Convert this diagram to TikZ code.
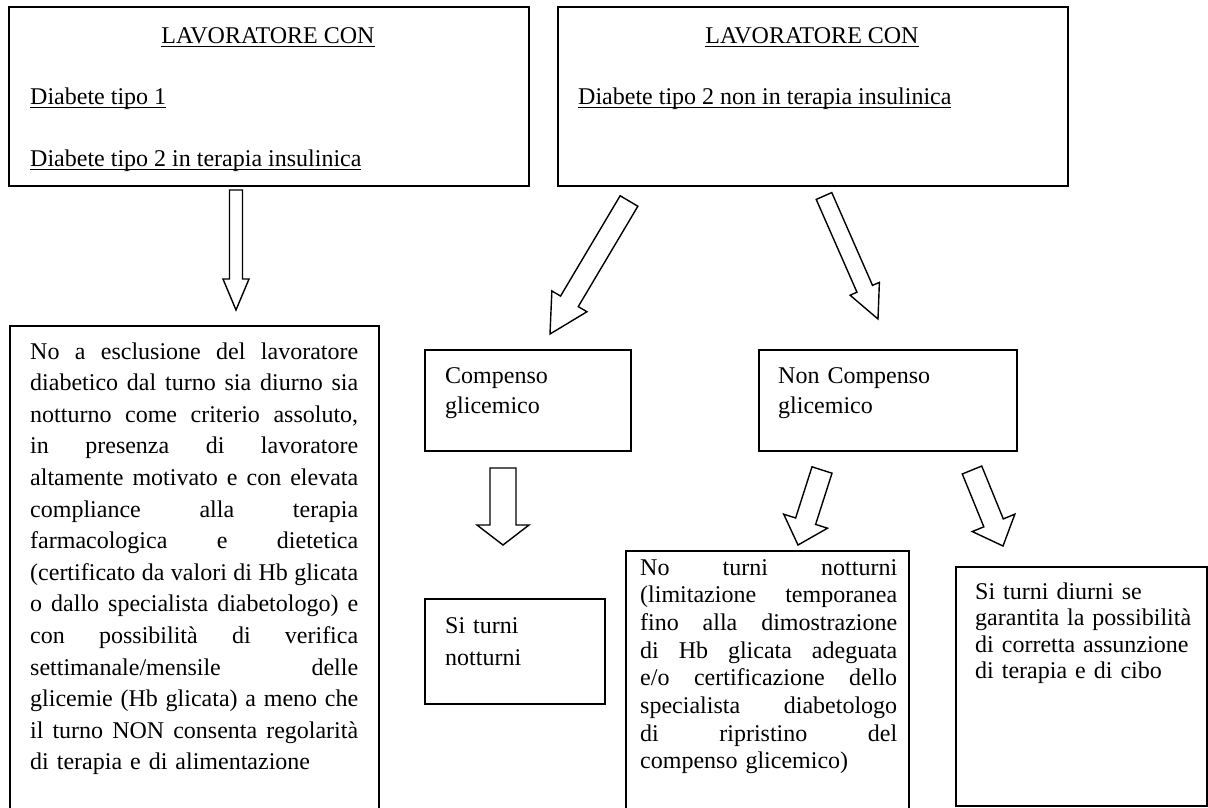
\documentclass[tikz,border=0pt]{standalone}
\usepackage{fontspec}
\setmainfont{Liberation Serif}
\usetikzlibrary{calc}
\newcommand\myul[1]{\setbox0=\hbox{#1}\rlap{\rule[-4pt]{\wd0}{1.3pt}}\box0}
\newcommand\jl[1]{\hbox to\hsize{\frenchspacing\spaceskip=.25em plus 1fil\relax #1}}
\newcommand\lastln[1]{\hbox{#1}}
\newcommand\barrow[5]{%
  \coordinate (hb) at ($(#2)!#5!(#1)$);
  \draw[arrowshape] ($(#1)!#3!90:(#2)$) -- ($(hb)!#3!90:(#2)$) -- ($(hb)!#4!90:(#2)$) -- (#2)
     -- ($(hb)!#4!-90:(#2)$) -- ($(hb)!#3!-90:(#2)$) -- ($(#1)!#3!-90:(#2)$) -- cycle;}
\begin{document}
\begin{tikzpicture}[x=1pt,y=-1pt,
  boxshape/.style={draw, line width=1.6pt, inner sep=0pt, anchor=north west},
  arrowshape/.style={draw, line width=1.4pt, line join=miter, fill=white},
  txt/.style={inner sep=0pt, anchor=base west, font=\fontsize{24}{28}\selectfont},
  para/.style={inner sep=0pt, anchor=base west, align=left}]
\useasboundingbox (0,0) rectangle (1208,807);
\fill[white] (0,0) rectangle (1208,807);
\clip (0,0) rectangle (1208,807);

% boxes
\node[boxshape, minimum width=520pt, minimum height=179pt] (b1) at (8,6) {};
\node[boxshape, minimum width=510pt, minimum height=179pt] (b2) at (557,6) {};
\node[boxshape, minimum width=369pt, minimum height=500pt] (b3) at (9,325) {};
\node[boxshape, minimum width=206pt, minimum height=101pt] (b4) at (424,349) {};
\node[boxshape, minimum width=258pt, minimum height=101pt] (b5) at (758,349) {};
\node[boxshape, minimum width=180pt, minimum height=105pt] (b6) at (424,598) {};
\node[boxshape, minimum width=283pt, minimum height=270pt] (b7) at (625,550) {};
\node[boxshape, minimum width=251pt, minimum height=239pt] (b8) at (955,566) {};

% texts
\node[txt, anchor=base] (t1a) at (268,43) {\myul{LAVORATORE CON}};
\node[txt] (t1b) at (30,104) {\myul{Diabete tipo 1}};
\node[txt] (t1c) at (30,166) {\myul{Diabete tipo 2 in terapia insulinica}};
\node[txt, anchor=base] (t2a) at (812,43) {\myul{LAVORATORE CON}};
\node[txt] (t2b) at (578,104) {\myul{Diabete tipo 2 non in terapia insulinica}};

\node[para, font=\fontsize{24}{31.6}\selectfont, text width=328pt] (t3) at (30,359)
 {\jl{No a esclusione del lavoratore}
  \jl{diabetico dal turno sia diurno sia}
  \jl{notturno come criterio assoluto,}
  \jl{in presenza di lavoratore}
  \jl{altamente motivato e con elevata}
  \jl{compliance alla terapia}
  \jl{farmacologica e dietetica}
  \jl{(certificato da valori di Hb glicata}
  \jl{o dallo specialista diabetologo) e}
  \jl{con possibilità di verifica}
  \jl{settimanale/mensile delle}
  \jl{glicemie (Hb glicata) a meno che}
  \jl{il turno NON consenta regolarità}
  \lastln{di terapia e di alimentazione}};

\node[para, font=\fontsize{24}{30}\selectfont, text width=180pt] (t4) at (445,383) {Compenso\\glicemico};
\node[para, font=\fontsize{24}{30}\selectfont, text width=220pt] (t5) at (778,383) {Non Compenso\\glicemico};
\node[para, font=\fontsize{24}{32}\selectfont, text width=150pt] (t6) at (445,633) {Si turni\\notturni};

\node[para, font=\fontsize{24}{27.7}\selectfont, text width=257pt] (t7) at (640,575)
 {\jl{No turni notturni}
  \jl{(limitazione temporanea}
  \jl{fino alla dimostrazione}
  \jl{di Hb glicata adeguata}
  \jl{e/o certificazione dello}
  \jl{specialista diabetologo}
  \jl{di ripristino del}
  \lastln{compenso glicemico)}};

\node[para, font=\fontsize{24}{26.5}\selectfont, text width=225pt] (t8) at (975,599)
 {Si turni diurni se\\garantita la possibilità\\di corretta assunzione\\di terapia e di cibo};

% block arrows
\coordinate (a1s) at (236,190); \coordinate (a1e) at (236,310);
\barrow{a1s}{a1e}{6.5pt}{13pt}{31pt}
\coordinate (a2s) at (629,201); \coordinate (a2e) at (550,334);
\barrow{a2s}{a2e}{10.3pt}{20.4pt}{38pt}
\coordinate (a3s) at (824,196); \coordinate (a3e) at (878,319);
\barrow{a3s}{a3e}{8.5pt}{16pt}{33pt}
\coordinate (a4s) at (503,468); \coordinate (a4e) at (503,545);
\barrow{a4s}{a4e}{13pt}{26pt}{20pt}
\coordinate (a5s) at (822,470); \coordinate (a5e) at (798,545);
\barrow{a5s}{a5e}{10.5pt}{23pt}{25pt}
\coordinate (a6s) at (972,470); \coordinate (a6e) at (1003,546);
\barrow{a6s}{a6e}{10.5pt}{23pt}{25pt}
\end{tikzpicture}
\end{document}
